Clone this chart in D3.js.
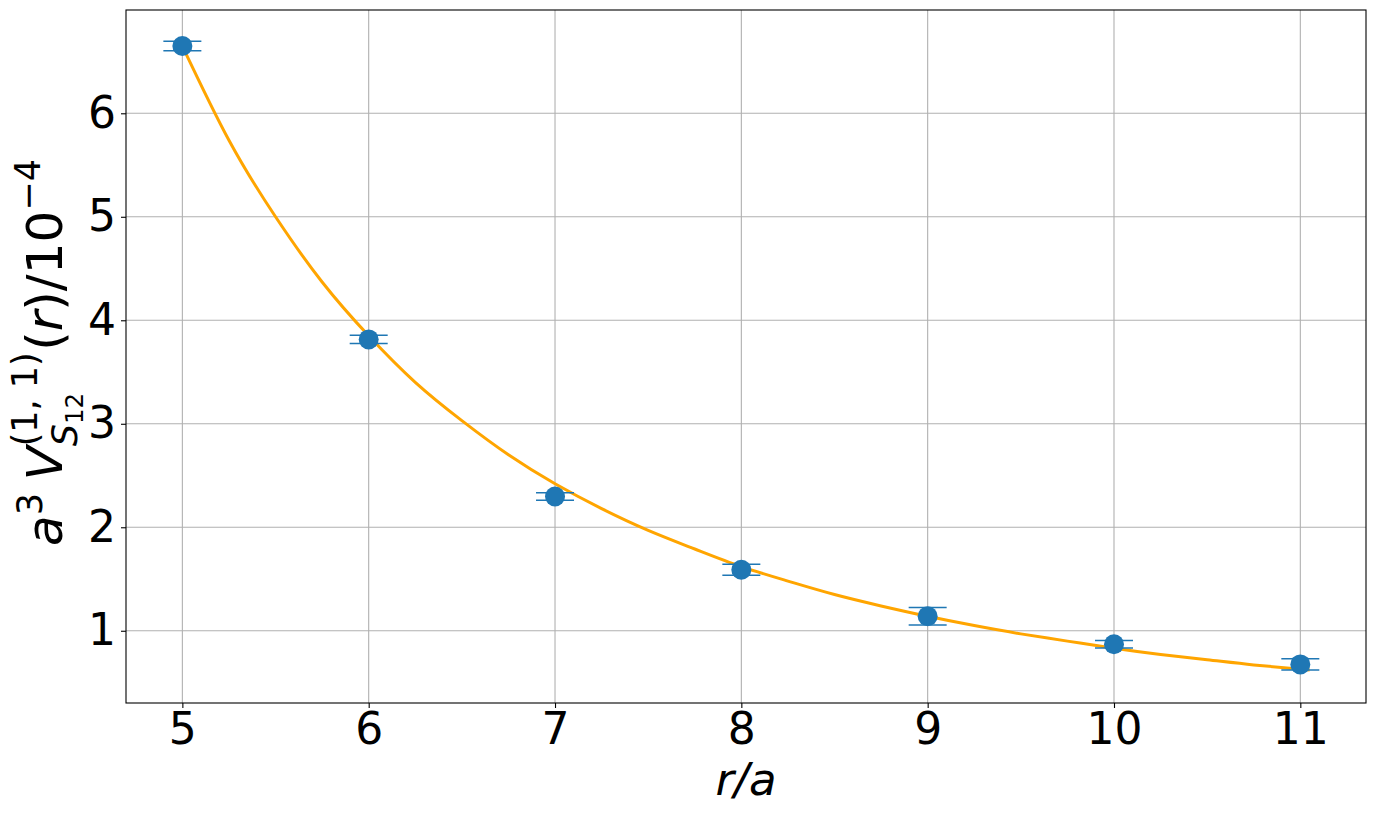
<!DOCTYPE html>
<html>
<head>
<meta charset="utf-8">
<script src="https://cdn.jsdelivr.net/npm/d3@7"></script>
<style>
  body { margin: 0; background: #fff; }
  svg { display: block; }
  text { font-family: "DejaVu Sans", sans-serif; fill: #000; }
</style>
</head>
<body>
<div id="chart"></div>
<script>
// ---------------- data ----------------
var rVals = [5, 6, 7, 8, 9, 10, 11];
var vVals = [6.65, 3.815, 2.297, 1.59, 1.14, 0.87, 0.675];
var vErr  = [0.045, 0.04, 0.037, 0.053, 0.085, 0.037, 0.055];

// fitted curve
var fitR = [5.0, 5.25, 5.5, 5.75, 6.0, 6.25, 6.5, 6.75, 7.0, 7.25, 7.5, 7.75, 8.0,
            8.25, 8.5, 8.75, 9.0, 9.25, 9.5, 9.75, 10.0, 10.25, 10.5, 10.75, 11.05];
var fitV = [6.65, 5.74, 5.00, 4.37, 3.85, 3.40, 3.03, 2.70, 2.42, 2.18, 1.97, 1.79, 1.62,
            1.48, 1.35, 1.24, 1.14, 1.05, 0.97, 0.90, 0.83, 0.77, 0.72, 0.67, 0.62];

var xTicks = [5, 6, 7, 8, 9, 10, 11];
var yTicks = [1, 2, 3, 4, 5, 6];

// ---------------- layout ----------------
var wdim = 1376, hdim = 814;
var plot = {left: 126, right: 1366, top: 10, bottom: 703};

var svg = d3.select("#chart").append("svg")
  .attr("width", wdim).attr("height", hdim);

var x = d3.scaleLinear().domain([4.6975, 11.3525]).range([plot.left, plot.right]);
var y = d3.scaleLinear().domain([0.302, 6.998]).range([plot.bottom, plot.top]);

// grid
var grid = svg.append("g");
grid.selectAll(".gx").data(xTicks).enter().append("line")
  .attr("x1", function(d){return x(d);}).attr("x2", function(d){return x(d);})
  .attr("y1", plot.top).attr("y2", plot.bottom)
  .attr("stroke", "#b0b0b0").attr("stroke-width", 1.1);
grid.selectAll(".gy").data(yTicks).enter().append("line")
  .attr("y1", function(d){return y(d);}).attr("y2", function(d){return y(d);})
  .attr("x1", plot.left).attr("x2", plot.right)
  .attr("stroke", "#b0b0b0").attr("stroke-width", 1.1);

// fit curve
var line = d3.line()
  .x(function(d){return x(d[0]);})
  .y(function(d){return y(d[1]);})
  .curve(d3.curveNatural);
svg.append("path")
  .datum(d3.zip(fitR, fitV))
  .attr("d", line)
  .attr("fill", "none")
  .attr("stroke", "orange")
  .attr("stroke-width", 3);

// error bars + markers
var pts = svg.append("g").selectAll("g")
  .data(d3.range(rVals.length)).enter().append("g");
var blue = "#1f77b4", cap = 19;
pts.append("line")
  .attr("x1", function(i){return x(rVals[i]);}).attr("x2", function(i){return x(rVals[i]);})
  .attr("y1", function(i){return y(vVals[i] - vErr[i]);})
  .attr("y2", function(i){return y(vVals[i] + vErr[i]);})
  .attr("stroke", blue).attr("stroke-width", 1.5);
[-1, 1].forEach(function(s){
  pts.append("line")
    .attr("x1", function(i){return x(rVals[i]) - cap;})
    .attr("x2", function(i){return x(rVals[i]) + cap;})
    .attr("y1", function(i){return y(vVals[i] + s*vErr[i]);})
    .attr("y2", function(i){return y(vVals[i] + s*vErr[i]);})
    .attr("stroke", blue).attr("stroke-width", 1.5);
});
pts.append("circle")
  .attr("cx", function(i){return x(rVals[i]);})
  .attr("cy", function(i){return y(vVals[i]);})
  .attr("r", 10)
  .attr("fill", blue);

// axes
var xAxis = svg.append("g")
  .attr("transform", "translate(0," + plot.bottom + ")")
  .call(d3.axisBottom(x).tickValues(xTicks).tickSize(5).tickPadding(5).tickFormat(d3.format("d")));
var yAxis = svg.append("g")
  .attr("transform", "translate(" + plot.left + ",0)")
  .call(d3.axisLeft(y).tickValues(yTicks).tickSize(5).tickPadding(5).tickFormat(d3.format("d")));
[xAxis, yAxis].forEach(function(a){
  a.select(".domain").remove();
  a.selectAll("line").attr("stroke", "#000").attr("stroke-width", 1.1);
  a.selectAll("text").style("font-size", "44px").style("font-family", "DejaVu Sans").attr("fill", "#000");
});

// frame
svg.append("rect")
  .attr("x", plot.left).attr("y", plot.top)
  .attr("width", plot.right - plot.left).attr("height", plot.bottom - plot.top)
  .attr("fill", "none").attr("stroke", "#000").attr("stroke-width", 1.1);

// x label
svg.append("text")
  .attr("x", (plot.left + plot.right) / 2).attr("y", 795)
  .attr("text-anchor", "middle")
  .style("font-size", "45px").style("font-style", "italic")
  .text("r/a");

// y label, pieced together (mathtext style)
var F = 50;
var yl = svg.append("g");
var cursor = 0;
function piece(txt, size, dy, italic){
  var t = yl.append("text")
    .attr("x", cursor).attr("y", dy)
    .style("font-size", size + "px")
    .style("font-style", italic ? "italic" : "normal")
    .text(txt);
  return t;
}
function adv(t){ return t.node().getComputedTextLength(); }

cursor += adv(piece("a", F, 0, true));
cursor += adv(piece("3", 0.7*F, -0.4*F, false));
cursor += 0.25*F;
cursor += adv(piece("V", F, 0, true));
var start = cursor;
var sup = piece("(1, 1)", 0.7*F, -0.5*F, false);
var wSup = adv(sup);
var sub = piece("S", 0.7*F, 0.3*F, true);
cursor += adv(sub);
var sub2 = piece("12", 0.49*F, 0.42*F, false);
cursor += adv(sub2);
cursor = start + Math.max(wSup, cursor - start) + 0.03*F;
cursor += adv(piece("(", F, 0, false));
cursor += adv(piece("r", F, 0, true));
cursor += adv(piece(")/10", F, 0, false));
cursor += adv(piece("\u22124", 0.7*F, -0.45*F, false));

var labLen = cursor;
yl.attr("transform", "translate(62," + ((plot.top + plot.bottom) / 2 + labLen / 2 - 4) + ") rotate(-90)");
</script>
</body>
</html>
